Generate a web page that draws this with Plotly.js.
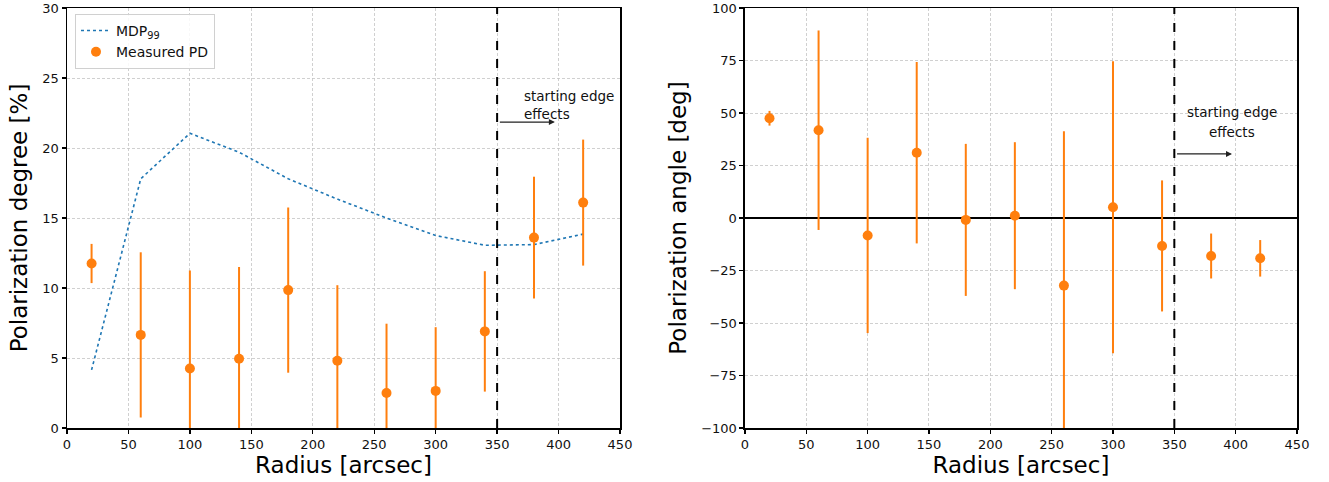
<!DOCTYPE html>
<html><head><meta charset="utf-8">
<script src="https://cdn.plot.ly/plotly-3.0.1.min.js"></script>
<style>html,body{margin:0;padding:0;background:#fff}#c{width:1329px;height:482px}</style>
</head><body><div id="c"></div>
<script>
const radius = [20, 60, 100, 140, 180, 220, 260, 300, 340, 380, 420];
const mdp99 = [4.15, 17.8, 21.05, 19.7, 17.8, 16.35, 15.0, 13.75, 13.05, 13.1, 13.85];
const pd = [11.75, 6.65, 4.25, 4.95, 9.85, 4.8, 2.5, 2.65, 6.9, 13.6, 16.1];
const pdErr = [1.4, 5.9, 7.0, 6.55, 5.9, 5.4, 4.95, 4.55, 4.3, 4.35, 4.5];
const pa = [47.5, 41.8, -8.3, 31.1, -0.9, 1.1, -32.2, 5.1, -13.3, -18.1, -19.2];
const paErr = [3.5, 47.5, 46.5, 43.2, 36.2, 35.0, 73.5, 69.5, 31.2, 10.7, 8.7];
const xTicks = [0, 50, 100, 150, 200, 250, 300, 350, 400, 450];
const pdTicks = [0, 5, 10, 15, 20, 25, 30];
const paTicks = [-100, -75, -50, -25, 0, 25, 50, 75, 100];
const edgeRadius = 350;

const orange = '#ff7f0e', blue = '#1f77b4';
const font = 'DejaVu Sans, sans-serif';

const traces = [
  {x: radius, y: mdp99, type: 'scatter', mode: 'lines', name: 'MDP<sub>99</sub>',
   line: {color: blue, dash: 'dot', width: 1.6}, xaxis: 'x', yaxis: 'y'},
  {x: radius, y: pd, type: 'scatter', mode: 'markers', name: 'Measured PD',
   marker: {color: orange, size: 10},
   error_y: {type: 'data', array: pdErr, visible: true, color: orange, thickness: 2, width: 0},
   xaxis: 'x', yaxis: 'y'},
  {x: radius, y: pa, type: 'scatter', mode: 'markers', name: 'PA', showlegend: false,
   marker: {color: orange, size: 10},
   error_y: {type: 'data', array: paErr, visible: true, color: orange, thickness: 2, width: 0},
   xaxis: 'x2', yaxis: 'y2'}
];

const axBase = {
  showline: true, linecolor: '#000', linewidth: 1.5, mirror: true,
  ticks: 'outside', ticklen: 4, tickwidth: 1.3, tickcolor: '#000',
  showgrid: true, gridcolor: '#c4c4c4', griddash: '3px,2px', gridwidth: 0.8,
  tickfont: {size: 13, color: '#111', family: font},
  zeroline: false
};
const titleFont = {size: 23, family: font, color: '#000'};

const layout = {
  width: 1329, height: 482,
  margin: {l: 67, r: 32, t: 8, b: 54},
  paper_bgcolor: '#fff', plot_bgcolor: '#fff',
  font: {family: font, color: '#000'},
  showlegend: true,
  legend: {x: 0.0065, y: 0.986, xanchor: 'left', yanchor: 'top',
    bgcolor: 'rgba(255,255,255,0.85)', bordercolor: '#d0d0d0', borderwidth: 1,
    font: {size: 14, family: font, color: '#111'}, tracegroupgap: 2},
  xaxis: Object.assign({}, axBase, {domain: [0, 0.4496], range: [0, 450], tickvals: xTicks,
    title: {text: 'Radius [arcsec]', font: titleFont, standoff: 6}, anchor: 'y'}),
  yaxis: Object.assign({}, axBase, {range: [0, 30], tickvals: pdTicks,
    title: {text: 'Polarization degree [%]', font: titleFont, standoff: 8}, anchor: 'x'}),
  xaxis2: Object.assign({}, axBase, {domain: [0.5512, 1], range: [0, 450], tickvals: xTicks,
    title: {text: 'Radius [arcsec]', font: titleFont, standoff: 6}, anchor: 'y2'}),
  yaxis2: Object.assign({}, axBase, {range: [-100, 100], tickvals: paTicks,
    zeroline: true, zerolinecolor: '#000', zerolinewidth: 2,
    title: {text: 'Polarization angle [deg]', font: titleFont, standoff: 8}, anchor: 'x2'}),
  shapes: [
    {type: 'line', xref: 'x', yref: 'y domain', x0: edgeRadius, x1: edgeRadius, y0: 0, y1: 1,
     line: {color: '#000', width: 2, dash: 'dash'}},
    {type: 'line', xref: 'x2', yref: 'y2 domain', x0: edgeRadius, x1: edgeRadius, y0: 0, y1: 1,
     line: {color: '#000', width: 2, dash: 'dash'}}
  ],
  annotations: [
    {xref: 'x', yref: 'y', x: 370, y: 23.05, text: 'starting edge<br>effects', showarrow: false,
     xanchor: 'left', yanchor: 'middle', align: 'left', font: {size: 13.5, family: font, color: '#111'}},
    {xref: 'x', yref: 'y', axref: 'x', ayref: 'y', x: 397, y: 21.85, ax: 351, ay: 21.85,
     text: '', showarrow: true, arrowhead: 2, arrowsize: 1, arrowwidth: 1.2, arrowcolor: '#222'},
    {xref: 'x2', yref: 'y2', x: 397, y: 50.5, text: 'starting edge', showarrow: false,
     xanchor: 'center', yanchor: 'middle', font: {size: 13.5, family: font, color: '#111'}},
    {xref: 'x2', yref: 'y2', x: 397, y: 41, text: 'effects', showarrow: false,
     xanchor: 'center', yanchor: 'middle', font: {size: 13.5, family: font, color: '#111'}},
    {xref: 'x2', yref: 'y2', axref: 'x2', ayref: 'y2', x: 397, y: 30.5, ax: 351, ay: 30.5,
     text: '', showarrow: true, arrowhead: 2, arrowsize: 1, arrowwidth: 1.2, arrowcolor: '#222'}
  ]
};

Plotly.newPlot('c', traces, layout, {displayModeBar: false, staticPlot: true});
</script></body></html>
